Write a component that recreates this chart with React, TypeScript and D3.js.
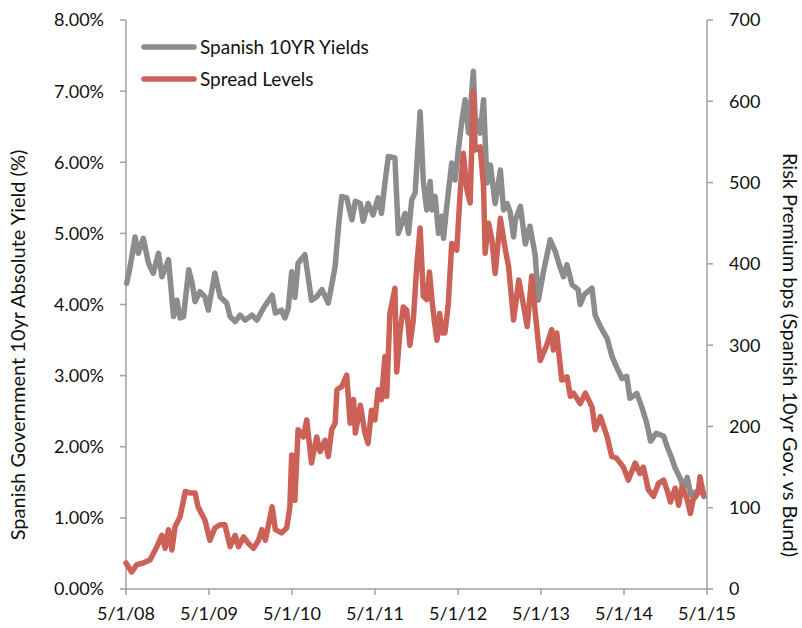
import React from "react";
import * as d3 from "d3";

const yieldDates = ["2008-05-04","2008-05-19","2008-06-10","2008-06-24","2008-07-16","2008-08-08","2008-08-29","2008-09-21","2008-10-06","2008-11-04","2008-11-26","2008-12-11","2008-12-25","2009-01-09","2009-02-01","2009-02-16","2009-03-01","2009-03-22","2009-04-13","2009-04-28","2009-05-27","2009-06-19","2009-07-18","2009-08-02","2009-08-24","2009-09-15","2009-10-07","2009-11-06","2009-11-28","2009-12-27","2010-02-03","2010-02-17","2010-03-16","2010-03-31","2010-04-15","2010-04-30","2010-05-14","2010-05-28","2010-06-27","2010-07-26","2010-08-18","2010-09-10","2010-10-08","2010-11-07","2010-11-22","2010-12-06","2010-12-28","2011-01-20","2011-02-04","2011-02-26","2011-03-10","2011-04-01","2011-04-23","2011-05-15","2011-05-30","2011-06-14","2011-06-29","2011-07-28","2011-08-12","2011-09-11","2011-09-26","2011-10-10","2011-10-25","2011-11-16","2011-11-30","2011-12-15","2011-12-30","2012-01-07","2012-01-21","2012-02-05","2012-02-20","2012-02-27","2012-03-12","2012-04-03","2012-04-18","2012-05-02","2012-05-17","2012-06-01","2012-06-16","2012-07-07","2012-07-15","2012-08-06","2012-08-21","2012-09-05","2012-09-20","2012-10-11","2012-11-03","2012-11-17","2012-12-02","2012-12-16","2012-12-31","2013-01-08","2013-01-30","2013-02-21","2013-03-13","2013-04-05","2013-04-19","2013-05-11","2013-06-10","2013-07-02","2013-07-16","2013-08-08","2013-08-23","2013-09-14","2013-10-11","2013-10-20","2013-11-07","2013-12-11","2013-12-25","2014-01-17","2014-02-16","2014-03-09","2014-03-31","2014-04-22","2014-05-13","2014-05-27","2014-06-26","2014-07-18","2014-08-09","2014-08-26","2014-09-20","2014-10-22","2014-11-07","2014-11-28","2014-12-12","2015-01-04","2015-01-18","2015-02-03","2015-02-19","2015-03-05","2015-03-23","2015-04-08","2015-04-18"];
const yieldValues = [4.30,4.53,4.95,4.72,4.93,4.58,4.44,4.72,4.39,4.63,3.83,4.06,3.81,3.83,4.49,4.30,4.04,4.18,4.11,3.92,4.44,4.11,4.02,3.83,3.76,3.85,3.78,3.85,3.78,3.95,4.13,3.88,3.92,3.81,3.95,4.46,4.10,4.58,4.70,4.06,4.11,4.21,4.02,4.53,5.10,5.52,5.50,5.19,5.45,5.42,5.17,5.42,5.26,5.50,5.28,5.71,6.08,6.06,5.00,5.28,5.00,5.47,5.57,6.71,5.73,5.33,5.73,5.33,5.52,5.00,5.24,4.93,5.38,5.99,5.75,6.17,6.57,6.88,6.41,7.28,6.64,6.41,6.88,5.71,5.96,5.42,5.89,5.33,5.42,5.30,4.95,5.19,5.38,4.85,5.10,4.70,4.06,4.45,4.91,4.75,4.60,4.39,4.56,4.28,4.21,4.00,4.14,4.23,3.85,3.69,3.52,3.27,3.11,2.96,2.99,2.68,2.75,2.56,2.33,2.08,2.19,2.15,2.00,1.83,1.70,1.55,1.42,1.57,1.32,1.35,1.38,1.44,1.30];

const spreadDates = ["2008-05-01","2008-05-26","2008-06-17","2008-07-16","2008-08-15","2008-09-14","2008-10-06","2008-10-20","2008-11-04","2008-11-19","2008-12-03","2008-12-25","2009-01-17","2009-02-08","2009-03-01","2009-03-14","2009-04-13","2009-05-05","2009-05-27","2009-06-19","2009-07-10","2009-08-02","2009-08-24","2009-09-08","2009-09-30","2009-10-22","2009-11-13","2009-12-05","2009-12-20","2010-01-04","2010-02-03","2010-02-17","2010-03-16","2010-04-08","2010-04-22","2010-04-30","2010-05-14","2010-05-28","2010-06-20","2010-07-05","2010-07-26","2010-08-18","2010-09-02","2010-09-24","2010-10-08","2010-10-23","2010-11-07","2010-11-15","2010-12-06","2010-12-28","2011-01-12","2011-01-27","2011-02-04","2011-02-26","2011-03-18","2011-04-01","2011-04-16","2011-05-01","2011-05-15","2011-05-30","2011-06-14","2011-06-22","2011-07-06","2011-07-28","2011-08-05","2011-08-19","2011-09-03","2011-09-18","2011-10-02","2011-10-17","2011-11-02","2011-11-16","2011-11-30","2011-12-15","2011-12-27","2012-01-07","2012-01-17","2012-01-29","2012-02-10","2012-02-20","2012-03-04","2012-03-19","2012-04-03","2012-04-25","2012-05-10","2012-05-24","2012-06-09","2012-06-23","2012-07-07","2012-07-15","2012-08-06","2012-08-21","2012-08-28","2012-09-12","2012-09-27","2012-10-11","2012-11-03","2012-11-25","2012-12-09","2012-12-31","2013-01-23","2013-02-07","2013-03-01","2013-03-21","2013-04-05","2013-04-27","2013-05-26","2013-06-17","2013-06-24","2013-07-09","2013-07-31","2013-08-23","2013-09-07","2013-09-21","2013-10-20","2013-11-12","2013-12-11","2013-12-25","2014-01-17","2014-02-16","2014-03-08","2014-03-29","2014-04-28","2014-05-20","2014-06-19","2014-07-10","2014-07-25","2014-08-16","2014-09-08","2014-09-30","2014-10-22","2014-11-06","2014-11-21","2014-12-12","2014-12-27","2015-01-11","2015-02-03","2015-02-17","2015-03-01","2015-03-23","2015-03-31","2015-04-15"];
const spreadValues = [32,21,30,32,36,52,66,50,73,48,77,89,120,118,118,101,85,60,75,79,79,52,66,52,64,56,50,60,73,60,101,73,69,75,101,165,109,196,187,208,155,187,169,183,163,196,204,245,249,263,204,233,192,226,192,179,220,208,245,233,286,237,339,370,267,315,347,343,300,331,401,444,360,356,390,356,331,306,339,315,315,351,425,417,487,536,491,475,612,540,544,495,413,450,429,388,456,417,397,331,380,358,323,385,341,281,300,319,294,315,257,261,237,241,228,241,224,196,212,187,163,161,150,134,155,142,150,122,114,130,134,122,107,124,103,126,110,93,110,118,138,116];

const xTickDates = ["2008-05-01","2009-05-01","2010-05-01","2011-05-01","2012-05-01","2013-05-01","2014-05-01","2015-05-01"];
const leftTicks = [0,1,2,3,4,5,6,7,8];
const rightTicks = [0,100,200,300,400,500,600,700];
const seriesNames = ["Spanish 10YR Yields","Spread Levels"];
const leftTitle = "Spanish Government 10yr Absolute Yield (%)";
const rightTitle = "Risk Premium bps (Spanish 10yr Gov. vs Bund)";

const GRAY = "#8c8c8c";
const RED = "#cc6158";
const AXIS = "#a0a0a0";
const FONT = "Lato, 'Liberation Sans', sans-serif";

export default function App() {
  const W = 802, H = 628;
  const left = 126, right = 707, top = 20, bottom = 589;
  const parse = d3.timeParse("%Y-%m-%d");
  const x = d3.scaleTime()
    .domain([parse(xTickDates[0])!, parse(xTickDates[xTickDates.length - 1])!])
    .range([left, right]);
  const yL = d3.scaleLinear().domain([0, 8]).range([bottom, top]);
  const yR = d3.scaleLinear().domain([0, 700]).range([bottom, top]);

  const yieldData = yieldDates.map((d, i) => ({ d: parse(d)!, v: yieldValues[i] }));
  const spreadData = spreadDates.map((d, i) => ({ d: parse(d)!, v: spreadValues[i] }));

  const lineL = d3.line<{ d: Date; v: number }>().x(p => x(p.d)).y(p => yL(p.v));
  const lineR = d3.line<{ d: Date; v: number }>().x(p => x(p.d)).y(p => yR(p.v));

  const fmtDate = (s: string) => {
    const dt = parse(s)!;
    return `${dt.getMonth() + 1}/${dt.getDate()}/${d3.timeFormat("%y")(dt)}`;
  };

  return (
    <svg width={W} height={H} style={{ position: "absolute", left: 0, top: 0, background: "#fff" }} fontFamily={FONT}>
      <line x1={left} x2={left} y1={top} y2={bottom} stroke={AXIS} strokeWidth={1.5} />
      <line x1={right} x2={right} y1={top} y2={bottom} stroke={AXIS} strokeWidth={1.5} />
      <line x1={left} x2={right} y1={bottom} y2={bottom} stroke={AXIS} strokeWidth={1.5} />
      {leftTicks.map(t => (
        <g key={"l" + t}>
          <line x1={left - 6} x2={left} y1={yL(t)} y2={yL(t)} stroke={AXIS} strokeWidth={1.5} />
          <text x={104} y={yL(t)} dy="0.36em" textAnchor="end" fontSize={18} fill="#111">{d3.format(".2f")(t) + "%"}</text>
        </g>
      ))}
      {rightTicks.map(t => (
        <g key={"r" + t}>
          <line x1={right} x2={right + 6} y1={yR(t)} y2={yR(t)} stroke={AXIS} strokeWidth={1.5} />
          <text x={729} y={yR(t)} dy="0.36em" textAnchor="start" fontSize={18} fill="#111">{t}</text>
        </g>
      ))}
      {xTickDates.map(s => (
        <g key={s}>
          <line x1={x(parse(s)!)} x2={x(parse(s)!)} y1={bottom} y2={bottom + 6} stroke={AXIS} strokeWidth={1.5} />
          <text x={x(parse(s)!)} y={620} textAnchor="middle" fontSize={18} fill="#111">{fmtDate(s)}</text>
        </g>
      ))}
      <text transform="translate(18,345) rotate(-90)" dy="0.36em" textAnchor="middle" fontSize={20} fill="#111">{leftTitle}</text>
      <text transform="translate(790,355) rotate(90)" dy="0.36em" textAnchor="middle" fontSize={20} fill="#111">{rightTitle}</text>
      <path d={lineL(yieldData)!} fill="none" stroke={GRAY} strokeWidth={5.5} strokeLinejoin="round" strokeLinecap="round" />
      <path d={lineR(spreadData)!} fill="none" stroke={RED} strokeWidth={5.5} strokeLinejoin="round" strokeLinecap="round" />
      {seriesNames.map((n, i) => (
        <g key={n}>
          <line x1={144} x2={194} y1={47 + i * 32} y2={47 + i * 32} stroke={i === 0 ? GRAY : RED} strokeWidth={5.5} strokeLinecap="round" />
          <text x={200} y={47 + i * 32} dy="0.36em" fontSize={19} fill="#111">{n}</text>
        </g>
      ))}
    </svg>
  );
}
